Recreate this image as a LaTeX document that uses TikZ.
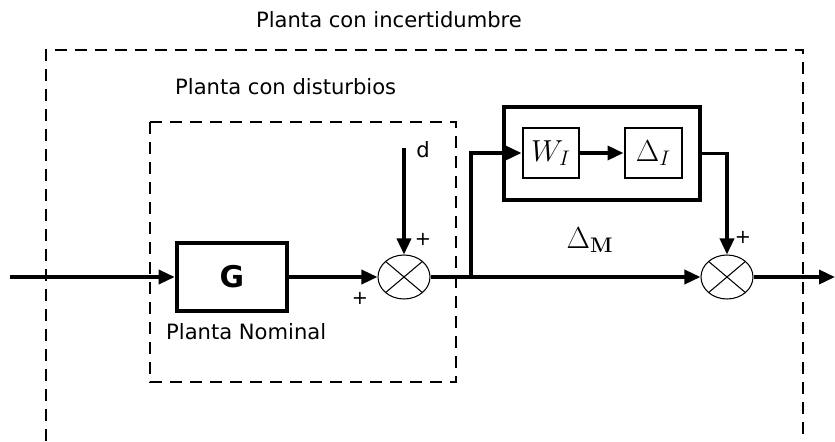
\documentclass[tikz,border=0pt]{standalone}
\usepackage[no-math]{fontspec}
\setmainfont{DejaVu Sans}
\usetikzlibrary{arrows.meta,shapes.geometric}
\tikzset{
  sig/.style={line width=2pt},
  sarr/.style={sig, -{Triangle[length=3.2mm,width=2.8mm]}},
  blk/.style={draw, line width=2pt, inner sep=0pt},
  sumj/.style={ellipse, draw, line width=0.6pt, minimum width=1.04cm,
               minimum height=0.88cm, inner sep=0pt,
               path picture={\draw[line width=0.6pt]
                 (path picture bounding box.north west) -- (path picture bounding box.south east)
                 (path picture bounding box.north east) -- (path picture bounding box.south west);}},
  frame/.style={line width=0.85pt, dash pattern=on 2.4mm off 1.6mm},
  lbl/.style={font=\fontsize{12}{14}\selectfont},
  sgn/.style={font=\fontsize{11}{13}\selectfont},
  mlbl/.style={font=\fontsize{17}{20}\selectfont},
}

\begin{document}
\begin{tikzpicture}
  \useasboundingbox (0,0) rectangle (16.7,8.82);
  % frames
  \draw[frame] (0.92,0) -- (0.92,7.82) -- (16.06,7.82) -- (16.06,0);
  \draw[frame] (3.0,6.38) rectangle (9.12,1.18);
  \node[lbl] (ttl) at (7.78,8.42) {Planta con incertidumbre};
  \node[lbl, anchor=west] (tdis) at (3.38,7.08) {Planta con disturbios};

  % nominal plant
  \node[blk, line width=2.6pt, minimum width=2.2cm, minimum height=1.36cm,
        font=\fontsize{17}{20}\selectfont\bfseries] (G) at (4.64,3.28) {G};
  \node[lbl, anchor=west] (tnom) at (3.2,2.18) {Planta Nominal};
  \node[sumj] (s1) at (8.08,3.28) {};
  \node[sumj] (s2) at (14.54,3.28) {};
  \coordinate (in) at (0.2,3.28);
  \coordinate (out) at (16.7,3.28);
  \coordinate (dtop) at (8.08,5.86);
  \coordinate (br) at (9.42,3.28);
  \node[lbl] (dlab) at (8.46,5.82) {d};
  \node[sgn] (p1) at (8.46,4.04) {+};
  \node[sgn] (p2) at (7.2,2.86) {+};
  \node[sgn] (p3) at (14.86,4.08) {+};

  % uncertainty
  \node[blk, line width=2pt, minimum width=3.92cm, minimum height=1.86cm] (dm) at (12.04,5.75) {};
  \node[blk, line width=1.7pt, minimum width=1.12cm, minimum height=1.0cm, mlbl] (wi) at (11.02,5.76) {$W_I$};
  \node[blk, line width=1.7pt, minimum width=1.14cm, minimum height=1.0cm, mlbl] (di) at (13.07,5.76) {$\Delta_I$};
  \node[mlbl] (dml) at (11.8,4.02) {$\Delta_{\mathbf{M}}$};

  \draw[sarr] (in) -- (G);
  \draw[sarr] (G) -- (s1);
  \draw[sarr] (dtop) -- (s1);
  \draw[sig] (s1) -- (br);
  \draw[sarr] (br) |- (wi);
  \draw[sarr] (wi) -- (di);
  \draw[sarr] (br) -- (s2);
  \draw[sarr] (dm.east) -| (s2);
  \draw[sarr] (s2) -- (out);
\end{tikzpicture}
\end{document}
